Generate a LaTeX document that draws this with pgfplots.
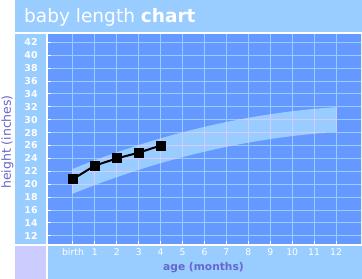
\documentclass[border=0pt]{standalone}
\usepackage{pgfplots}
\pgfplotsset{compat=1.18}
\usepackage{fontspec}
\setmainfont{DejaVu Sans}
\definecolor{lb}{HTML}{99CCFF}
\definecolor{pb}{HTML}{6699FF}
\definecolor{lav}{HTML}{CCCCFF}
\definecolor{lbl}{HTML}{6666CC}
\definecolor{pinkgrid}{HTML}{D2CCFF}
\definecolor{tealb}{HTML}{3399CC}
\begin{document}
\begin{tikzpicture}
\useasboundingbox (0,0) rectangle (362bp,279bp);
\fill[white] (0,0) rectangle (362bp,279bp);
\fill[lb] (15bp,247bp) rectangle (362bp,279bp);
\fill[lb] (15bp,35bp) rectangle (46bp,245bp);
\fill[lav] (15bp,0bp) rectangle (46bp,33bp);
\fill[lb] (48bp,0bp) rectangle (362bp,33bp);
\node[anchor=base west, text=white, inner sep=0pt, font=\fontsize{18.6}{20}\selectfont] at (24bp,256.3bp) {baby length \textbf{chart}};
\node[rotate=90, text=lbl, inner sep=0pt, font=\fontsize{12.5}{14}\selectfont] at (7.5bp,137bp) {height (inches)};
\node[text=lbl, inner sep=0pt, font=\fontsize{10.7}{12}\selectfont\bfseries] at (203.5bp,11bp) {age (months)};
\begin{axis}[
  at={(48bp,35bp)}, anchor=south west,
  scale only axis, width=313bp, height=210bp,
  xmin=-1.14, xmax=13.14, ymin=10.73, ymax=43.3,
  axis background/.style={fill=pb},
  axis line style={draw=none},
  xtick={0,1,2,3,4,5,6,7,8,9,10,11,12},
  xticklabels={birth,1,2,3,4,5,6,7,8,9,10,11,12},
  ytick={12,14,...,42},
  grid=major, major grid style={lb, line width=1bp},
  tick style={white, line width=1bp}, major tick length=3bp, tick align=inside, tick pos=left,
  xticklabel style={font=\fontsize{9.3}{11}\selectfont, text=white, yshift=-1bp},
  yticklabel style={font=\fontsize{9.5}{11}\selectfont\bfseries, text=white, anchor=center, xshift=-17bp},
  /pgf/number format/assume math mode=true,
  unbounded coords=jump,
]
% normal range band: upper edge then lower edge reversed
\addplot[fill=lb, draw=none] coordinates {
(0,22.40) (0.5,23.07) (1,23.72) (1.5,24.35) (2,24.95) (2.5,25.53) (3,26.08) (3.5,26.61) (4,27.12) (4.5,27.60) (5,28.06) (5.5,28.49) (6,28.90) (6.5,29.29) (7,29.65) (7.5,29.99) (8,30.30) (8.5,30.59) (9,30.86) (9.5,31.10) (10,31.32) (10.5,31.51) (11,31.69) (11.5,31.83) (12,31.95)
(12,28.10) (11.5,27.98) (11,27.84) (10.5,27.66) (10,27.47) (9.5,27.25) (9,27.01) (8.5,26.74) (8,26.45) (7.5,26.14) (7,25.80) (6.5,25.44) (6,25.05) (5.5,24.64) (5,24.21) (4.5,23.75) (4,23.27) (3.5,22.76) (3,22.23) (2.5,21.68) (2,21.10) (1.5,20.50) (1,19.87) (0.5,19.22) (0,18.55)
};
% grid lines seen through the band
\addplot[pinkgrid, line width=1bp] coordinates {
(0,18.55) (0,22.40) (nan,nan)
(1,19.87) (1,23.72) (nan,nan)
(2,21.10) (2,24.95) (nan,nan)
(3,22.23) (3,26.08) (nan,nan)
(4,23.27) (4,27.12) (nan,nan)
(5,24.21) (5,28.06) (nan,nan)
(6,25.05) (6,28.90) (nan,nan)
(7,25.80) (7,29.65) (nan,nan)
(8,26.45) (8,30.30) (nan,nan)
(9,27.01) (9,30.86) (nan,nan)
(10,27.47) (10,31.32) (nan,nan)
(11,27.84) (11,31.69) (nan,nan)
(12,28.10) (12,31.95) (nan,nan)
(0,20) (1.1,20) (nan,nan)
(0,22) (2.79,22) (nan,nan)
(1.22,24) (4.77,24) (nan,nan)
(2.93,26) (7.29,26) (nan,nan)
(4.93,28) (11.54,28) (nan,nan)
(7.52,30) (12,30)
};
% measured length
\addplot[black, line width=2bp, mark=square*, mark size=4bp, mark options={solid, fill=black}] coordinates {
(0,20.8) (1,22.9) (2,24.0) (3,24.9) (4,26.0)
};
\draw[tealb, line width=1bp] (rel axis cs:1,0) -- (rel axis cs:1,1);
\end{axis}
\end{tikzpicture}
\end{document}
